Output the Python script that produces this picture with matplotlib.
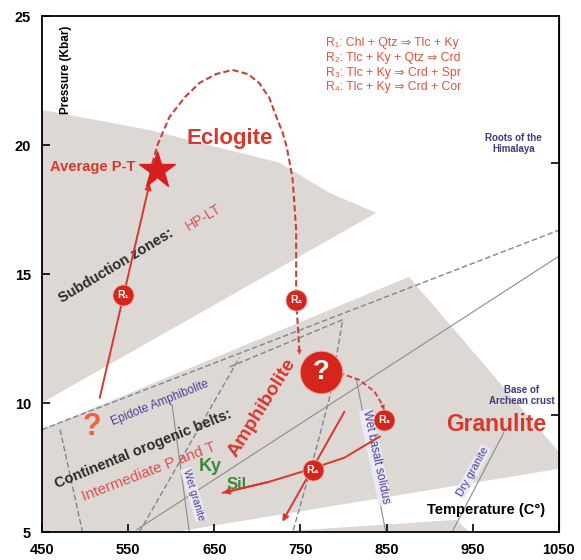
"""P-T diagram: metamorphic facies fields with reaction path R1-R4."""

import matplotlib

matplotlib.use("Agg")
import matplotlib.pyplot as plt

plt.rcParams["font.family"] = ["Liberation Sans", "DejaVu Sans"]

# ---- shaded fields (T in deg C, P in kbar) ----
SUBDUCTION_T = [450, 575, 726, 784, 838, 450]
SUBDUCTION_P = [21.36, 20.58, 19.31, 18.14, 17.37, 10.01]
OROGENIC_T = [450, 876, 1050, 1050, 604, 450]
OROGENIC_P = [8.97, 14.89, 8.10, 7.45, 5.0, 5.0]
SLIVER_T = [718, 931, 946]
SLIVER_P = [5.0, 5.47, 5.0]

# ---- facies boundaries (dashed) ----
EA_TOP_T = [450, 1050]
EA_TOP_P = [8.97, 16.70]
EA_LEFT_T = [471, 497]
EA_LEFT_P = [8.97, 5.0]
AMPH_T = [563, 679, 668, 799, 784, 764, 741]
AMPH_P = [5.0, 11.75, 11.40, 13.23, 10.24, 7.69, 5.0]
AMPH_SEGS = [(0, 2), (2, 7)]

# ---- solidi and Ky-Sil (thin solid) ----
KYSIL_T = [560, 1049]
KYSIL_P = [5.09, 15.67]
WET_GRANITE_T = [601, 621]
WET_GRANITE_P = [9.93, 5.0]
WET_BASALT_T = [815, 849]
WET_BASALT_P = [10.9, 5.0]
DRY_GRANITE_T = [926, 986]
DRY_GRANITE_P = [5.0, 8.85]

# ---- P-T path ----
PATH_R1_T = [517, 575]
PATH_R1_P = [10.2, 18.53]
LOOP_T = [575, 584, 598, 616, 633, 652, 671, 689, 702, 714, 722, 729,
          734, 738, 741, 743, 745, 745, 749]
LOOP_P = [18.92, 20.0, 21.09, 21.86, 22.41, 22.75, 22.91, 22.75, 22.41,
          21.82, 21.09, 20.51, 19.93, 19.23, 18.65, 17.68, 16.71, 14.04, 11.87]
LOOP_R3_T = [795, 818, 836, 845, 847]
LOOP_R3_P = [11.17, 10.9, 10.44, 9.93, 9.74]
R4_CURVE_T = [842, 801, 760, 714, 660]
R4_CURVE_P = [8.70, 7.88, 7.42, 6.95, 6.52]
R4_CROSS_T = [801, 729]
R4_CROSS_P = [9.66, 5.40]

STAR = (584, 19.04)
QUESTION = (774, 11.21)
REACT_NAMES = ["R₁", "R₂", "R₃", "R₄"]
REACT_T = [544, 745, 847, 764]
REACT_P = [14.2, 14.0, 9.35, 7.42]

REACTIONS = [
    "R₁: Chl + Qtz ⇒ Tlc + Ky",
    "R₂: Tlc + Ky + Qtz ⇒ Crd",
    "R₃: Tlc + Ky ⇒ Crd + Spr",
    "R₄: Tlc + Ky ⇒ Crd + Cor",
]
REACT_TEXT_P = [23.95, 23.37, 22.81, 22.25]

X_TICKS = [450, 550, 650, 750, 850, 950, 1050]
Y_TICKS = [5, 10, 15, 20, 25]
RIGHT_TICKS = [19.31, 9.55]

GRAY = "#ddd8d4"
DASH = "#80858f"
RED = "#d8372c"
CIRCLE = "#d4261c"
PURPLE = "#4a4296"

fig = plt.figure(figsize=(5.81, 5.60), dpi=100)
ax = fig.add_axes([0.0723, 0.05, 0.8897, 0.9214])
ax.set_xlim(450, 1050)
ax.set_ylim(5, 25)

ax.fill(SUBDUCTION_T, SUBDUCTION_P, color=GRAY, lw=0, zorder=0)
ax.fill(OROGENIC_T, OROGENIC_P, color=GRAY, lw=0, zorder=0)
ax.fill(SLIVER_T, SLIVER_P, color=GRAY, lw=0, zorder=0)

dash_kw = dict(color=DASH, lw=1.0, ls=(0, (4, 2)), zorder=1)
ax.plot(EA_TOP_T, EA_TOP_P, **dash_kw)
ax.plot(EA_LEFT_T, EA_LEFT_P, **dash_kw)
for a, b in AMPH_SEGS:
    ax.plot(AMPH_T[a:b], AMPH_P[a:b], **dash_kw)

thin_kw = dict(color="#8c8c8c", lw=0.8, zorder=1)
ax.plot(KYSIL_T, KYSIL_P, **thin_kw)
ax.plot(WET_GRANITE_T, WET_GRANITE_P, **thin_kw)
ax.plot(WET_BASALT_T, WET_BASALT_P, **thin_kw)
ax.plot(DRY_GRANITE_T, DRY_GRANITE_P, **thin_kw)

# ---- labels ----
ax.text(478, 22.9, "Pressure (Kbar)", rotation=90, ha="center", va="center",
        fontsize=8.5, fontweight="bold")
ax.text(965, 5.87, "Temperature (C°)", ha="center", va="center",
        fontsize=10.5, fontweight="bold")
ax.text(668, 20.27, "Eclogite", color=RED, ha="center", va="center",
        fontsize=16, fontweight="bold")
ax.text(977, 9.15, "Granulite", color=RED, ha="center", va="center",
        fontsize=16.5, fontweight="bold")
ax.text(706, 9.82, "Amphibolite", color=RED, ha="center", va="center",
        fontsize=14, fontweight="bold", rotation=58, rotation_mode="anchor")
ax.text(558, 19.15, "Average P-T", color=RED, ha="right", va="center",
        fontsize=10.5, fontweight="bold")
ax.text(471, 14.0, "Subduction zones:", color="#2b2b2b", ha="left", va="center",
        fontsize=10.5, fontweight="bold", rotation=31, rotation_mode="anchor")
ax.text(618, 16.79, "HP-LT", color="#d9534f", ha="left", va="center",
        fontsize=10, rotation=31, rotation_mode="anchor")
ax.text(465, 6.84, "Continental orogenic belts:", color="#2b2b2b", ha="left",
        va="center", fontsize=10.5, fontweight="bold", rotation=22,
        rotation_mode="anchor")
ax.text(497, 6.35, "Intermediate P and T", color="#d9534f", ha="left",
        va="center", fontsize=11, rotation=21, rotation_mode="anchor")
ax.text(531, 9.24, "Epidote Amphibolite", color=PURPLE, ha="left", va="center",
        fontsize=8.5, rotation=22, rotation_mode="anchor")
ax.text(508, 9.08, "?", color="#e8653c", ha="center", va="center",
        fontsize=22, fontweight="bold")
ax.text(645, 7.53, "Ky", color="#3a8a3a", ha="center", va="center",
        fontsize=13, fontweight="bold")
ax.text(676, 6.84, "Sil", color="#3a8a3a", ha="center", va="center",
        fontsize=12, fontweight="bold")

box = dict(facecolor="#ece9f4", edgecolor="none", pad=0.6)
ax.text(626, 6.45, "Wet granite", color=PURPLE, ha="center", va="center",
        fontsize=7.5, rotation=-73, rotation_mode="anchor", bbox=box,
        clip_on=True)
ax.text(837, 7.9, "Wet basalt solidus", color=PURPLE, ha="center", va="center",
        fontsize=8.5, rotation=-78, rotation_mode="anchor", bbox=box)
ax.text(950, 7.34, "Dry granite", color=PURPLE, ha="center", va="center",
        fontsize=8, rotation=61, rotation_mode="anchor", bbox=box)
ax.text(997, 20.05, "Roots of the\nHimalaya", color="#3d3a80", ha="center",
        va="center", fontsize=7, fontweight="bold", linespacing=1.15)
ax.text(1007, 10.28, "Base of\nArchean crust", color="#3d3a80", ha="center",
        va="center", fontsize=7, fontweight="bold", linespacing=1.1)

for txt, p in zip(REACTIONS, REACT_TEXT_P):
    ax.text(780, p, txt, color="#e8503a", ha="left", va="center", fontsize=8.8)

# ---- P-T path ----
arrow_kw = dict(arrowstyle="-|>", color=RED, lw=1.4, shrinkA=0, shrinkB=0,
                mutation_scale=9)
ax.annotate("", xy=(PATH_R1_T[1], PATH_R1_P[1]),
            xytext=(PATH_R1_T[0], PATH_R1_P[0]), arrowprops=arrow_kw, zorder=3)

ax.plot(LOOP_T, LOOP_P, color="#c8423a", lw=1.5, ls=(0, (3, 1.5)), zorder=3)
ax.annotate("", xy=(LOOP_T[-1], LOOP_P[-1]), xytext=(LOOP_T[-2], LOOP_P[-2]),
            arrowprops=dict(arrow_kw, lw=0, color="#c8423a"), zorder=3)
ax.plot(LOOP_R3_T, LOOP_R3_P, color="#c8423a", lw=1.3, ls=(0, (3, 1.5)),
        zorder=3)
ax.annotate("", xy=(LOOP_R3_T[-1], LOOP_R3_P[-1]),
            xytext=(LOOP_R3_T[-2], LOOP_R3_P[-2]),
            arrowprops=dict(arrow_kw, lw=0, color="#c8423a"), zorder=3)

ax.plot(R4_CURVE_T, R4_CURVE_P, color=RED, lw=1.4, zorder=3)
ax.annotate("", xy=(R4_CURVE_T[-1], R4_CURVE_P[-1]),
            xytext=(R4_CURVE_T[-2], R4_CURVE_P[-2]), arrowprops=arrow_kw,
            zorder=3)
ax.annotate("", xy=(R4_CROSS_T[1], R4_CROSS_P[1]),
            xytext=(R4_CROSS_T[0], R4_CROSS_P[0]), arrowprops=arrow_kw,
            zorder=3)

ax.plot(*STAR, marker="*", ms=28, color="#d81e1e", zorder=4)
ax.scatter(REACT_T, REACT_P, s=230, color=CIRCLE, edgecolor="#f2b0a8",
           lw=0.6, zorder=4)
for name, t, p in zip(REACT_NAMES, REACT_T, REACT_P):
    ax.text(t, p, name, color="white", ha="center", va="center",
            fontsize=7.5, fontweight="bold", zorder=5)
ax.scatter([QUESTION[0]], [QUESTION[1]], s=950, color=CIRCLE,
           edgecolor="#f2b0a8", lw=0.8, zorder=4)
ax.text(*QUESTION, "?", color="white", ha="center", va="center",
        fontsize=20, fontweight="bold", zorder=5)

# ---- axes ----
ax.set_xticks(X_TICKS)
ax.set_yticks(Y_TICKS)
ax.tick_params(direction="in", length=6, width=1.2, labelsize=10.5, pad=8)
for lab in ax.get_xticklabels() + ax.get_yticklabels():
    lab.set_fontweight("bold")
for s in ax.spines.values():
    s.set_linewidth(1.3)
right = ax.secondary_yaxis("right")
right.set_yticks(RIGHT_TICKS)
right.set_yticklabels([])
right.tick_params(direction="in", length=6, width=1.2)

fig.savefig("out.png", dpi=100)
